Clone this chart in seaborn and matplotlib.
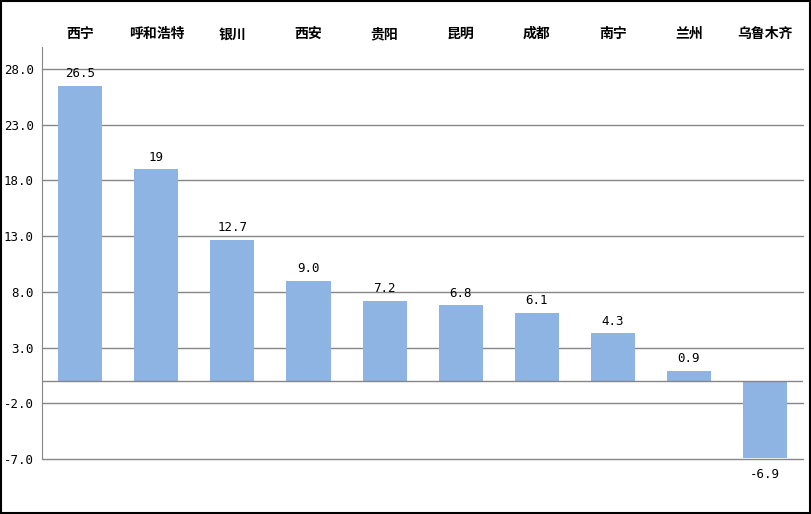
import matplotlib
matplotlib.use('Agg')
import matplotlib.pyplot as plt
import seaborn as sns
import pandas as pd

cities = ['西宁', '呼和浩特', '银川', '西安', '贵阳', '昆明', '成都', '南宁', '兰州', '乌鲁木齐']
values = [26.5, 19.0, 12.7, 9.0, 7.2, 6.8, 6.1, 4.3, 0.9, -6.9]
value_labels = ['26.5', '19', '12.7', '9.0', '7.2', '6.8', '6.1', '4.3', '0.9', '-6.9']
y_ticks = [-7.0, -2.0, 3.0, 8.0, 13.0, 18.0, 23.0, 28.0]


def main():
    sns.set_style('white')
    plt.rcParams['font.family'] = ['Noto Sans CJK SC', 'DejaVu Sans']
    plt.rcParams['text.color'] = 'black'
    plt.rcParams['xtick.color'] = 'black'
    plt.rcParams['ytick.color'] = 'black'
    num_font = ['DejaVu Sans Mono']

    df = pd.DataFrame({'city': cities, 'value': values})

    fig = plt.figure(figsize=(8.12, 5.14), dpi=100)
    ax = fig.add_axes([0.052, 0.107, 0.937, 0.802])

    sns.barplot(data=df, x='city', y='value', color='#8EB4E3',
                saturation=1, width=0.58, linewidth=0, edgecolor='none',
                ax=ax)

    ax.set_ylim(-7, 30)
    ax.set_yticks(y_ticks)
    ax.set_yticklabels([f'{t:.1f}' for t in y_ticks], fontsize=9,
                       family=num_font)
    for t in y_ticks:
        ax.axhline(t, color='#868686', lw=1, zorder=0, clip_on=False)
    ax.axhline(0, color='#868686', lw=1, zorder=3)

    ax.xaxis.tick_top()
    ax.tick_params(axis='x', length=0, pad=4)
    ax.tick_params(axis='y', length=0, pad=6)
    for lbl in ax.get_xticklabels():
        lbl.set_fontweight('bold')
        lbl.set_fontsize(10)
    ax.set_xlabel('')
    ax.set_ylabel('')

    for side in ['top', 'right', 'bottom']:
        ax.spines[side].set_visible(False)
    ax.spines['left'].set_color('#868686')

    for i, (v, s) in enumerate(zip(values, value_labels)):
        if v >= 0:
            ax.annotate(s, (i, v), xytext=(0, 4), textcoords='offset points',
                        ha='center', va='bottom', fontsize=9, family=num_font)
        else:
            ax.annotate(s, (i, v), xytext=(0, -7), textcoords='offset points',
                        ha='center', va='top', fontsize=9, family=num_font)

    fig.patches.append(plt.Rectangle((0.001, 0.002), 0.997, 0.996,
                                     transform=fig.transFigure, fill=False,
                                     edgecolor='black', lw=1.5))
    fig.savefig('out.png', dpi=100)


if __name__ == '__main__':
    main()
